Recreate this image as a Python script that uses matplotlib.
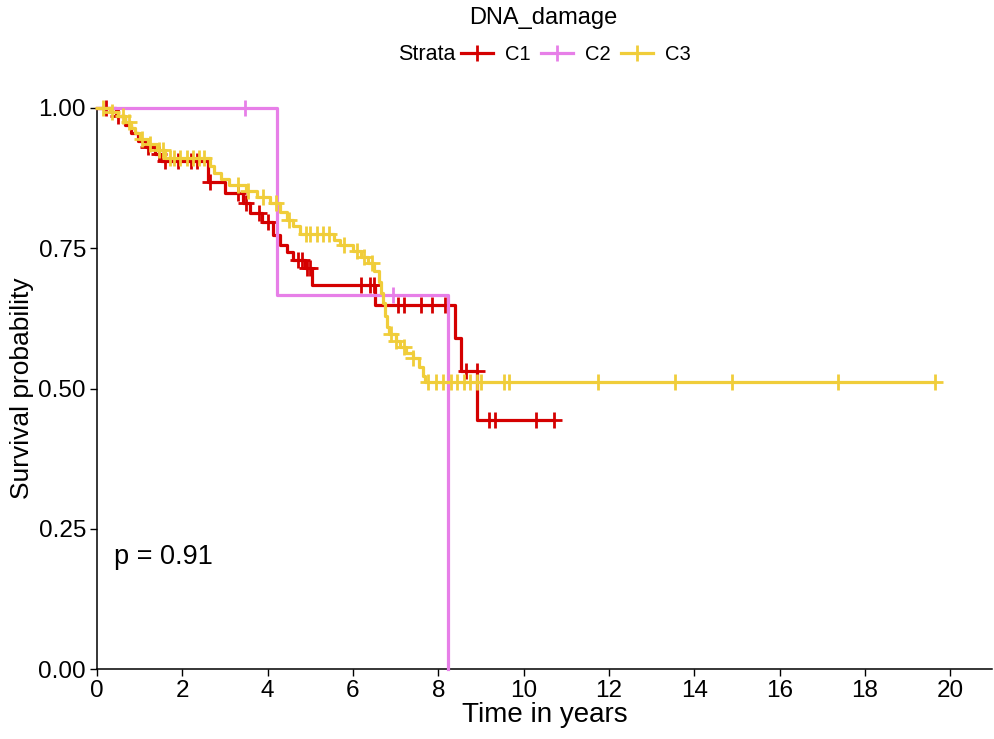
import numpy as np
import matplotlib
matplotlib.use("Agg")
import matplotlib.pyplot as plt
from matplotlib.lines import Line2D

plt.rcParams['font.family'] = ['Liberation Sans', 'DejaVu Sans']

# --- data: step times / survival after the step, censor times
c1_times = [0.45, 0.65, 0.8, 0.95, 1.15, 1.35, 1.5, 2.6, 3.0, 3.42, 3.59, 3.87, 4.13, 4.29,
            4.45, 4.6, 4.88, 5.04, 6.52, 8.39, 8.53, 8.91]
c1_surv = [0.985, 0.97, 0.955, 0.942, 0.93, 0.918, 0.905, 0.868, 0.848, 0.830, 0.813, 0.797,
           0.773, 0.756, 0.743, 0.729, 0.715, 0.685, 0.649, 0.59, 0.531, 0.444]
c1_censor = [0.2, 0.5, 1.2, 1.45, 1.6, 1.9, 2.2, 2.35, 2.65, 3.3, 3.5, 3.8, 4.0, 4.7, 4.8,
             4.93, 5.0, 6.2, 6.4, 6.5, 7.05, 7.2, 7.6, 7.85, 8.15, 8.65, 8.9, 9.2, 9.32,
             10.3, 10.72]

c2_times = [4.22, 8.23]
c2_surv = [0.667, 0.0]
c2_censor = [3.47, 6.94]

c3_times = [0.3, 0.5, 0.65, 0.8, 0.9, 1.0, 1.2, 1.4, 1.6, 2.65, 2.75, 2.9, 3.1, 3.5, 3.75,
            4.05, 4.3, 4.45, 4.6, 4.75, 5.55, 5.7, 6.0, 6.2, 6.35, 6.5, 6.6, 6.65, 6.7, 6.75,
            6.8, 6.85, 7.0, 7.1, 7.25, 7.4, 7.55, 7.65, 7.7]
c3_surv = [0.993, 0.985, 0.975, 0.965, 0.955, 0.945, 0.935, 0.925, 0.91, 0.897, 0.885, 0.873,
           0.862, 0.852, 0.842, 0.830, 0.815, 0.800, 0.789, 0.776, 0.765, 0.755, 0.745, 0.735,
           0.724, 0.710, 0.690, 0.670, 0.652, 0.630, 0.610, 0.598, 0.585, 0.574, 0.563, 0.554,
           0.538, 0.522, 0.511]
c3_censor = [0.15, 0.35, 0.6, 0.75, 1.05, 1.25, 1.45, 1.55, 1.7, 1.8, 1.95, 2.1, 2.25, 2.4,
             2.5, 3.3, 3.55, 3.9, 4.2, 4.5, 4.9, 5.0, 5.15, 5.3, 5.45, 5.8, 6.1, 6.25, 6.45,
             6.9, 7.0, 7.2, 7.4, 7.75, 7.95, 8.1, 8.3, 8.45, 8.6, 8.75, 8.9, 9.0, 9.55, 9.65,
             11.75, 13.55, 14.89, 17.37, 19.65]

strata = ['C1', 'C2', 'C3']
colors = ['#D40000', '#E77FE8', '#F0CD3A']
x_ticks = list(range(0, 21, 2))
y_ticks = [0.0, 0.25, 0.5, 0.75, 1.0]
p_label = 'p = 0.91'


def step_xy(times, surv, censor):
    end = max(max(times), max(censor))
    x = [0.0] + list(times) + [end]
    y = [1.0] + list(surv) + [surv[-1]]
    return x, y


def surv_at(times, surv, t):
    idx = np.searchsorted(times, t, side='right') - 1
    return 1.0 if idx < 0 else surv[idx]


fig = plt.figure(figsize=(9.94, 7.39), dpi=100)
ax = fig.add_axes([97 / 994, 70 / 739, 895 / 994, 561 / 739])

data = [(c1_times, c1_surv, c1_censor), (c2_times, c2_surv, c2_censor),
        (c3_times, c3_surv, c3_censor)]
for (times, surv, censor), color in zip(data, colors):
    x, y = step_xy(times, surv, censor)
    ax.plot(x, y, drawstyle='steps-post', color=color, lw=2.3, clip_on=False, zorder=3)
    cy = [surv_at(times, surv, t) for t in censor]
    ax.plot(censor, cy, ls='none', marker='+', color=color, ms=11, mew=2.0,
            clip_on=False, zorder=3)

ax.set_xlim(0, 20.98)
ax.set_ylim(0, 1)
ax.set_xticks(x_ticks)
ax.set_yticks(y_ticks)
ax.set_yticklabels(['%.2f' % v for v in y_ticks])
ax.tick_params(labelsize=17.5, length=5, width=1, colors='black', pad=3)
for s in ['top', 'right']:
    ax.spines[s].set_visible(False)
for s in ['left', 'bottom']:
    ax.spines[s].set_linewidth(1.1)
ax.set_xlabel('Time in years', fontsize=20, labelpad=0)
ax.set_ylabel('Survival probability', fontsize=19, labelpad=3)
ax.text(0.4, 0.2, p_label, fontsize=19.5, va='center', ha='left')

fig.text(543 / 994, 1 - 18 / 739, 'DNA_damage', ha='center', va='center', fontsize=17)
fig.text(455 / 994, 1 - 55 / 739, 'Strata', ha='right', va='center', fontsize=15.5)
handles = [Line2D([], [], color=c, lw=2.3, marker='+', ms=11, mew=2.0) for c in colors]
fig.legend(handles, strata, ncol=3, loc='center left', bbox_to_anchor=(461 / 994, 1 - 55 / 739),
           frameon=False, fontsize=14.5, handlelength=1.6, columnspacing=0.5,
           handletextpad=0.6, borderaxespad=0, borderpad=0)

fig.savefig('out.png', dpi=100)
